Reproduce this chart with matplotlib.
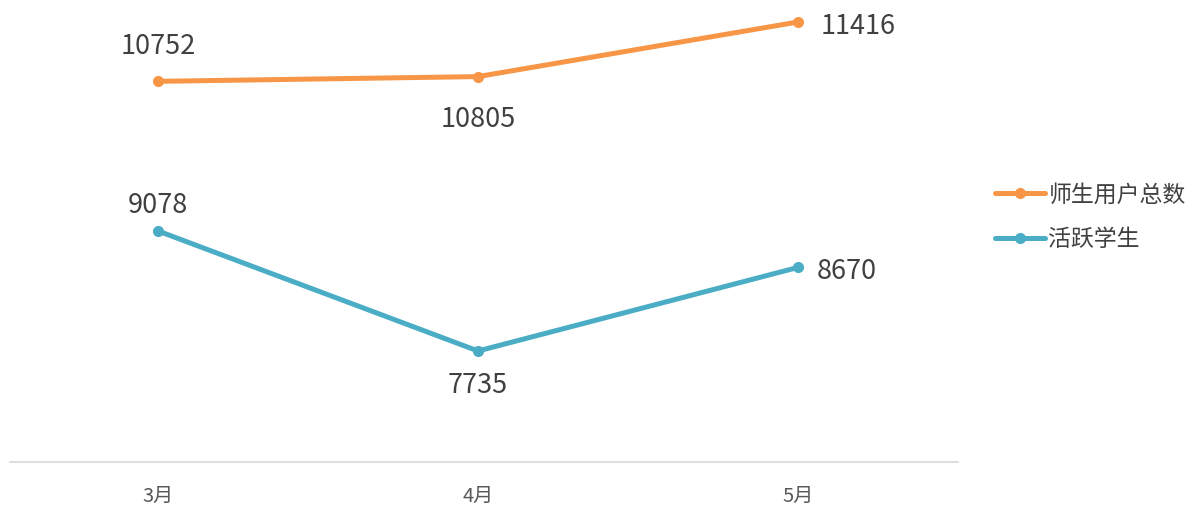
import matplotlib.pyplot as plt

plt.rcParams['font.family'] = ['Noto Sans CJK SC', 'DejaVu Sans']

months = ['3月', '4月', '5月']
total_users = [10752, 10805, 11416]
active_students = [9078, 7735, 8670]
series_names = ['师生用户总数', '活跃学生']

orange = '#F79646'
blue = '#4BACC6'
text_gray = '#404040'

fig = plt.figure(figsize=(11.98, 5.08), dpi=100)
ax = fig.add_axes([10 / 1198, 46 / 508, 948 / 1198, 462 / 508])

x = list(range(len(months)))
ax.plot(x, total_users, color=orange, lw=3.6, marker='o', ms=7, label=series_names[0],
        solid_capstyle='round')
ax.plot(x, active_students, color=blue, lw=3.6, marker='o', ms=7, label=series_names[1],
        solid_capstyle='round')

# data label offsets (points)
offs_total = [(0, 25), (0, -31), (43, -3)]
offs_active = [(0, 18), (0, -25), (35, -3)]
for xi, v, o in zip(x, total_users, offs_total):
    ax.annotate(str(v), (xi, v), xytext=o, textcoords='offset points',
                ha='center', va='center', fontsize=19.5, color=text_gray)
for xi, v, o in zip(x, active_students, offs_active):
    ax.annotate(str(v), (xi, v), xytext=o, textcoords='offset points',
                ha='center', va='center', fontsize=19.5, color=text_gray)

ax.set_xlim(-0.4625, 2.5)
ax.set_ylim(6493, 11662)
ax.set_xticks(x)
ax.set_xticklabels(months, fontsize=14.5, color='#595959')
ax.tick_params(axis='x', length=0, pad=17)
ax.set_yticks([])
for s in ['top', 'left', 'right']:
    ax.spines[s].set_visible(False)
ax.spines['bottom'].set_color('#D9D9D9')
ax.spines['bottom'].set_linewidth(1.2)

leg = ax.legend(loc='center left', bbox_to_anchor=(964 / 948, 0.53), frameon=False,
                fontsize=16.5, handlelength=2.2, labelspacing=0.95, handletextpad=0.15)
for t in leg.get_texts():
    t.set_color(text_gray)

fig.savefig('out.png', dpi=100)
